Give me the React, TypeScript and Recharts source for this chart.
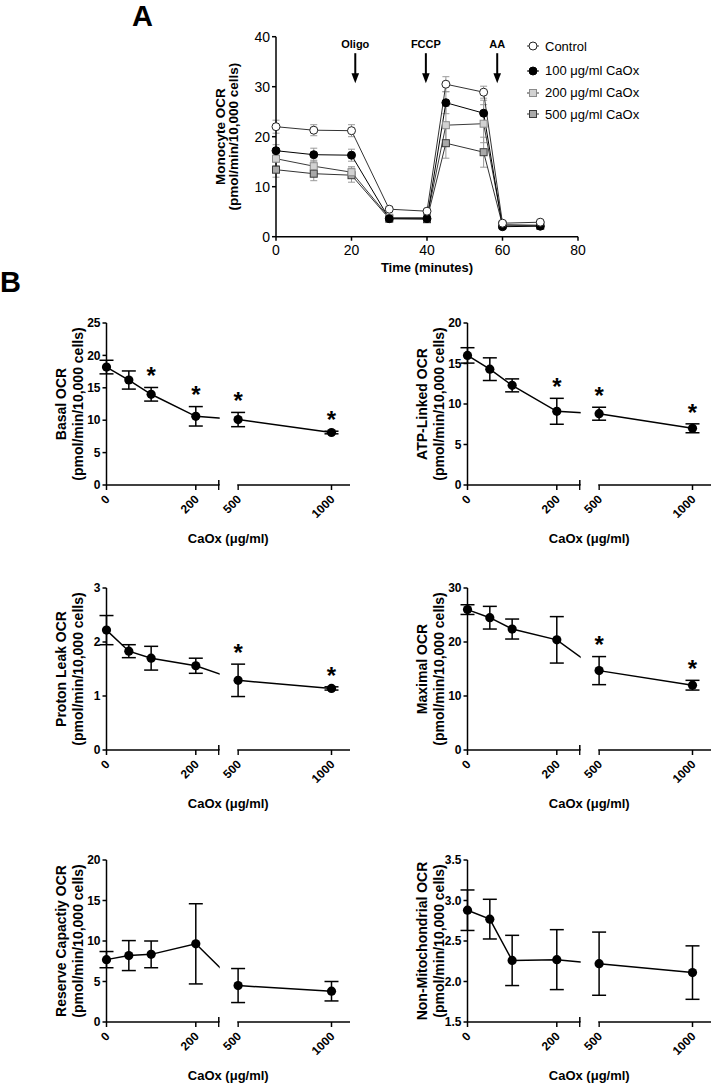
import React from 'react';
import { LineChart, Line, XAxis, YAxis, ErrorBar, ReferenceArea, ReferenceDot } from 'recharts';

// ---- Panel A: Seahorse trace ----
const TIMES = [0, 10, 20, 30, 40, 45, 55, 60, 70];
const TIME_TICKS = [0, 20, 40, 60, 80];
const OCR_TICKS = [0, 10, 20, 30, 40];

const CONTROL_OCR = [22.0, 21.3, 21.2, 5.5, 5.1, 30.5, 28.9, 2.7, 2.9];
const CONTROL_SEM = [1.3, 1.1, 1.2, 0.5, 0.4, 1.5, 1.2, 0.3, 0.3];
const CAOX100_OCR = [17.2, 16.4, 16.3, 3.6, 3.6, 26.8, 24.7, 2.0, 2.1];
const CAOX100_SEM = [1.2, 1.3, 1.2, 0.4, 0.4, 2.2, 2.6, 0.2, 0.2];
const CAOX200_OCR = [15.6, 14.1, 12.9, 3.8, 3.8, 22.3, 22.6, 2.4, 2.3];
const CAOX200_SEM = [1.4, 1.2, 1.1, 0.4, 0.4, 3.8, 3.8, 0.3, 0.2];
const CAOX500_OCR = [13.4, 12.6, 12.3, 3.6, 3.5, 18.7, 16.9, 2.3, 2.2];
const CAOX500_SEM = [1.5, 1.4, 1.4, 0.3, 0.3, 3.0, 3.0, 0.2, 0.2];

const INJECTIONS = ['Oligo', 'FCCP', 'AA'];
const INJECTION_TIMES = [21, 39.7, 58.6];

// ---- Panel B: dose response ----
const DOSES = [0, 50, 100, 200, 500, 1000];
const DOSE_TICKS = [0, 200, 500, 1000];

const BASAL_MEAN = [18.2, 16.2, 14.0, 10.6, 10.1, 8.1];
const BASAL_SEM = [1.05, 1.4, 1.05, 1.5, 1.1, 0.2];
const BASAL_SIG = [false, false, true, true, true, true];

const ATP_MEAN = [16.0, 14.3, 12.3, 9.1, 8.8, 7.0];
const ATP_SEM = [0.95, 1.4, 0.8, 1.6, 0.8, 0.55];
const ATP_SIG = [false, false, false, true, true, true];

const LEAK_MEAN = [2.22, 1.83, 1.70, 1.56, 1.29, 1.14];
const LEAK_SEM = [0.27, 0.12, 0.22, 0.14, 0.3, 0.03];
const LEAK_SIG = [false, false, false, false, true, true];

const MAX_MEAN = [26.0, 24.5, 22.4, 20.4, 14.7, 12.0];
const MAX_SEM = [0.9, 2.1, 1.85, 4.3, 2.6, 0.9];
const MAX_SIG = [false, false, false, false, true, true];

const RESERVE_MEAN = [7.7, 8.2, 8.35, 9.65, 4.5, 3.8];
const RESERVE_SEM = [1.0, 1.85, 1.65, 4.95, 2.1, 1.2];
const RESERVE_SIG = [false, false, false, false, false, false];

const NONMITO_MEAN = [2.88, 2.77, 2.26, 2.27, 2.22, 2.11];
const NONMITO_SEM = [0.25, 0.245, 0.31, 0.37, 0.39, 0.33];
const NONMITO_SIG = [false, false, false, false, false, false];

const FONT = '"Liberation Sans", Arial, Helvetica, sans-serif';
const AXIS_STYLE = { stroke: '#000', strokeWidth: 1.5 };

// broken x axis: 0–250 on the left segment, 500–1100 on the right one (pixel units)
const LEFT_SCALE = 89.3 / 200;
const RIGHT_SCALE = 93.4 / 500;
const BREAK_START = 112.3;
const BREAK_END = 131.6;
const AXIS_LEN = 243.5;
const axisPos = (dose: number) =>
  dose <= 300 ? dose * LEFT_SCALE : BREAK_END + (dose - 500) * RIGHT_SCALE;
const X_TICK_POS = [...DOSE_TICKS.map(axisPos), BREAK_START].sort((a, b) => a - b);

const B_W = 357;
const B_TOP = 20;
const B_PLOT_H = 162;
const B_XAXIS_H = 70;
const B_H = B_TOP + B_PLOT_H + B_XAXIS_H;
const B_LEFT = 76.5;
const B_YAXIS_W = 30;
const B_RIGHT = B_W - B_LEFT - B_YAXIS_W - AXIS_LEN;
const STAR_GAP = 17;
const STAR_SIZE = 24;

function YTitle(props: any) {
  const { viewBox, lines, offsets, size } = props;
  const axisX = viewBox.x + viewBox.width;
  const cy = viewBox.y + viewBox.height / 2;
  return (
    <g>
      {lines.map((line: string, i: number) => {
        const cx = axisX - offsets[i];
        return (
          <text
            key={line}
            x={cx}
            y={cy}
            transform={`rotate(-90, ${cx}, ${cy})`}
            textAnchor="middle"
            dominantBaseline="central"
            fontFamily={FONT}
            fontWeight="bold"
            fontSize={size}
            fill="#000"
          >
            {line}
          </text>
        );
      })}
    </g>
  );
}

function XTitle(props: any) {
  const { viewBox, text, dy } = props;
  return (
    <text
      x={viewBox.x + viewBox.width / 2}
      y={viewBox.y + dy}
      textAnchor="middle"
      dominantBaseline="central"
      fontFamily={FONT}
      fontWeight="bold"
      fontSize={13}
      fill="#000"
    >
      {text}
    </text>
  );
}

function DoseTick(props: any) {
  const { x, y, payload } = props;
  const label = DOSE_TICKS.find((d) => Math.abs(axisPos(d) - payload.value) < 0.01);
  if (label === undefined) {
    // break marker sticks up through the axis
    return <line x1={x} x2={x} y1={y - 10} y2={y - 5} stroke="#000" strokeWidth={1.5} />;
  }
  return (
    <text
      transform={`translate(${x + 1},${y + 7}) rotate(-45)`}
      textAnchor="end"
      dy="0.35em"
      fontFamily={FONT}
      fontWeight="bold"
      fontSize={12}
      fill="#000"
    >
      {label}
    </text>
  );
}

type DosePanelProps = {
  left: number;
  top: number;
  title: string;
  mean: number[];
  sem: number[];
  sig: boolean[];
  yDomain: [number, number];
  yTicks: number[];
  decimals?: number;
};

function DosePanel({ left, top, title, mean, sem, sig, yDomain, yTicks, decimals = 0 }: DosePanelProps) {
  const rows = DOSES.map((dose, i) => ({
    dose,
    pos: axisPos(dose),
    mean: mean[i],
    sem: sem[i],
    sig: sig[i],
  }));
  const [yMin, yMax] = yDomain;
  const pxPerUnit = B_PLOT_H / (yMax - yMin);
  const pad = (yMax - yMin) * 0.035;

  const renderDot = (p: any) => {
    const { cx, cy, payload, index } = p;
    const starY = cy - payload.sem * pxPerUnit - STAR_GAP;
    return (
      <g key={`dot-${index}`}>
        <circle cx={cx} cy={cy} r={4.6} fill="#000" />
        {payload.sig && (
          <text
            x={cx}
            y={starY + STAR_SIZE * 0.57}
            textAnchor="middle"
            fontFamily={FONT}
            fontWeight="bold"
            fontSize={STAR_SIZE}
            fill="#000"
          >
            *
          </text>
        )}
      </g>
    );
  };

  return (
    <div style={{ position: 'absolute', left, top }}>
      <LineChart
        width={B_W}
        height={B_H}
        data={rows}
        margin={{ top: B_TOP, right: B_RIGHT, bottom: 0, left: B_LEFT }}
      >
        <XAxis
          type="number"
          dataKey="pos"
          domain={[0, AXIS_LEN]}
          ticks={X_TICK_POS}
          interval={0}
          tick={<DoseTick />}
          tickSize={5}
          tickMargin={0}
          height={B_XAXIS_H}
          axisLine={AXIS_STYLE}
          tickLine={AXIS_STYLE}
          label={<XTitle text="CaOx (μg/ml)" dy={53} />}
        />
        <YAxis
          type="number"
          domain={yDomain}
          ticks={yTicks}
          interval={0}
          width={B_YAXIS_W}
          tickSize={4}
          tickMargin={2}
          tickFormatter={(v: number) => v.toFixed(decimals)}
          tick={{ fontFamily: FONT, fontWeight: 'bold', fontSize: 12, fill: '#000' }}
          axisLine={AXIS_STYLE}
          tickLine={AXIS_STYLE}
          label={
            <YTitle
              lines={[title, '(pmol/min/10,000 cells)']}
              offsets={[46, 28.5]}
              size={14}
            />
          }
        />
        <Line
          dataKey="mean"
          stroke="#000"
          strokeWidth={1.5}
          dot={false}
          activeDot={false}
          isAnimationActive={false}
        />
        {/* hide the connecting line inside the axis break */}
        <ReferenceArea
          x1={BREAK_START + 0.9}
          x2={BREAK_END - 0.9}
          y1={yMin - pad}
          y2={yMax}
          fill="#fff"
          fillOpacity={1}
          stroke="none"
          ifOverflow="visible"
          zIndex={550}
        />
        <Line
          dataKey="mean"
          stroke="none"
          strokeWidth={0}
          dot={renderDot}
          activeDot={false}
          isAnimationActive={false}
          zIndex={650}
        >
          <ErrorBar dataKey="sem" width={7} stroke="#000" strokeWidth={1.5} zIndex={650} />
        </Line>
      </LineChart>
    </div>
  );
}

// ---- Panel A ----
type MarkerKind = 'openCircle' | 'filledCircle' | 'lightSquare' | 'darkSquare';

function Marker({ kind, cx, cy }: { kind: MarkerKind; cx: number; cy: number }) {
  if (kind === 'openCircle') return <circle cx={cx} cy={cy} r={4} fill="#fff" stroke="#222" strokeWidth={1} />;
  if (kind === 'filledCircle') return <circle cx={cx} cy={cy} r={4} fill="#000" stroke="#000" strokeWidth={1} />;
  if (kind === 'lightSquare')
    return <rect x={cx - 3.5} y={cy - 3.5} width={7} height={7} fill="#d2d2d2" stroke="#8a8a8a" strokeWidth={1} />;
  return <rect x={cx - 3.5} y={cy - 3.5} width={7} height={7} fill="#a9a9a9" stroke="#3a3a3a" strokeWidth={1} />;
}

const SERIES_A = [
  { key: 'control', err: 'controlSem', name: 'Control', values: CONTROL_OCR, sem: CONTROL_SEM, marker: 'openCircle' as MarkerKind, line: '#333' },
  { key: 'c100', err: 'c100Sem', name: '100 μg/ml CaOx', values: CAOX100_OCR, sem: CAOX100_SEM, marker: 'filledCircle' as MarkerKind, line: '#000' },
  { key: 'c200', err: 'c200Sem', name: '200 μg/ml CaOx', values: CAOX200_OCR, sem: CAOX200_SEM, marker: 'lightSquare' as MarkerKind, line: '#3a3a3a' },
  { key: 'c500', err: 'c500Sem', name: '500 μg/ml CaOx', values: CAOX500_OCR, sem: CAOX500_SEM, marker: 'darkSquare' as MarkerKind, line: '#333' },
];

const timeRows = TIMES.map((t, i) => {
  const row: Record<string, number> = { t };
  SERIES_A.forEach((s) => {
    row[s.key] = s.values[i];
    row[s.err] = s.sem[i];
  });
  return row;
});

const ARROW_TIP = 30.7;
const LEGEND_ROWS_Y = [46, 70.5, 92.5, 114];

function InjectionArrow(props: any) {
  const { cx, cy, text } = props;
  return (
    <g>
      <line x1={cx} x2={cx} y1={cy - 30} y2={cy - 8} stroke="#000" strokeWidth={2} />
      <path d={`M ${cx - 3.8} ${cy - 10} L ${cx + 3.8} ${cy - 10} L ${cx} ${cy} Z`} fill="#000" />
      <text
        x={cx}
        y={cy - 39}
        textAnchor="middle"
        dominantBaseline="central"
        fontFamily={FONT}
        fontWeight="bold"
        fontSize={11}
        fill="#000"
      >
        {text}
      </text>
    </g>
  );
}

function TracePanel() {
  return (
    <div style={{ position: 'absolute', left: 150, top: 0 }}>
      <LineChart
        width={564}
        height={290}
        data={timeRows}
        margin={{ top: 36.7, right: 136, bottom: 13.3, left: 86 }}
      >
        <XAxis
          type="number"
          dataKey="t"
          domain={[0, 80]}
          ticks={TIME_TICKS}
          interval={0}
          tickSize={4}
          tickMargin={4}
          height={40}
          tick={{ fontFamily: FONT, fontSize: 14, fill: '#000' }}
          axisLine={AXIS_STYLE}
          tickLine={AXIS_STYLE}
          label={<XTitle text="Time (minutes)" dy={31} />}
        />
        <YAxis
          type="number"
          domain={[0, 40]}
          ticks={OCR_TICKS}
          interval={0}
          width={40}
          tickSize={4}
          tickMargin={2}
          tick={{ fontFamily: FONT, fontSize: 14, fill: '#000' }}
          axisLine={AXIS_STYLE}
          tickLine={AXIS_STYLE}
          label={
            <YTitle
              lines={['Monocyte OCR', '(pmol/min/10,000 cells)']}
              offsets={[55, 42]}
              size={13.5}
            />
          }
        />
        {INJECTIONS.map((name, i) => (
          <ReferenceDot
            key={name}
            x={INJECTION_TIMES[i]}
            y={ARROW_TIP}
            r={0}
            ifOverflow="visible"
            shape={(p: any) => <InjectionArrow cx={p.cx} cy={p.cy} text={name} />}
          />
        ))}
        {[...SERIES_A].reverse().map((s) => (
          <Line
            key={s.key}
            dataKey={s.key}
            name={s.name}
            stroke={s.line}
            strokeWidth={1}
            dot={(p: any) => <Marker key={`${s.key}-${p.index}`} kind={s.marker} cx={p.cx} cy={p.cy} />}
            activeDot={false}
            isAnimationActive={false}
          >
            <ErrorBar dataKey={s.err} width={3.5} stroke="#9a9a9a" strokeWidth={1} />
          </Line>
        ))}
      </LineChart>
    </div>
  );
}

function TraceLegend() {
  return (
    <>
      {SERIES_A.map((s, i) => (
        <div
          key={s.key}
          style={{
            position: 'absolute',
            left: 525,
            top: LEGEND_ROWS_Y[i] - 9,
            height: 18,
            display: 'flex',
            alignItems: 'center',
            fontFamily: FONT,
            fontSize: 13,
            color: '#000',
            whiteSpace: 'nowrap',
          }}
        >
          <svg width={18} height={18} style={{ marginRight: 2 }}>
            <line x1={2} x2={14} y1={9} y2={9} stroke={s.line} strokeWidth={1} />
            <Marker kind={s.marker} cx={8} cy={9} />
          </svg>
          <span>{s.name}</span>
        </div>
      ))}
    </>
  );
}

const letterStyle: React.CSSProperties = {
  position: 'absolute',
  fontFamily: FONT,
  fontWeight: 'bold',
  fontSize: 29,
  lineHeight: 1,
  color: '#000',
};

export default function App() {
  return (
    <div style={{ position: 'absolute', left: 0, top: 0, width: 714, height: 1084, background: '#fff' }}>
      <div style={{ ...letterStyle, left: 132, top: 2 }}>A</div>
      <div style={{ ...letterStyle, left: 0, top: 268 }}>B</div>
      <TracePanel />
      <TraceLegend />
      <DosePanel left={0} top={303.3} title="Basal OCR" mean={BASAL_MEAN} sem={BASAL_SEM} sig={BASAL_SIG} yDomain={[0, 25]} yTicks={[0, 5, 10, 15, 20, 25]} />
      <DosePanel left={360.5} top={303.3} title="ATP-Linked  OCR" mean={ATP_MEAN} sem={ATP_SEM} sig={ATP_SIG} yDomain={[0, 20]} yTicks={[0, 5, 10, 15, 20]} />
      <DosePanel left={0} top={567.7} title="Proton Leak OCR" mean={LEAK_MEAN} sem={LEAK_SEM} sig={LEAK_SIG} yDomain={[0, 3]} yTicks={[0, 1, 2, 3]} />
      <DosePanel left={360.5} top={567.7} title="Maximal OCR" mean={MAX_MEAN} sem={MAX_SEM} sig={MAX_SIG} yDomain={[0, 30]} yTicks={[0, 10, 20, 30]} />
      <DosePanel left={0} top={840} title="Reserve Capactiy OCR" mean={RESERVE_MEAN} sem={RESERVE_SEM} sig={RESERVE_SIG} yDomain={[0, 20]} yTicks={[0, 5, 10, 15, 20]} />
      <DosePanel left={360.5} top={840} title="Non-Mitochondrial OCR" mean={NONMITO_MEAN} sem={NONMITO_SEM} sig={NONMITO_SIG} yDomain={[1.5, 3.5]} yTicks={[1.5, 2.0, 2.5, 3.0, 3.5]} decimals={1} />
    </div>
  );
}
